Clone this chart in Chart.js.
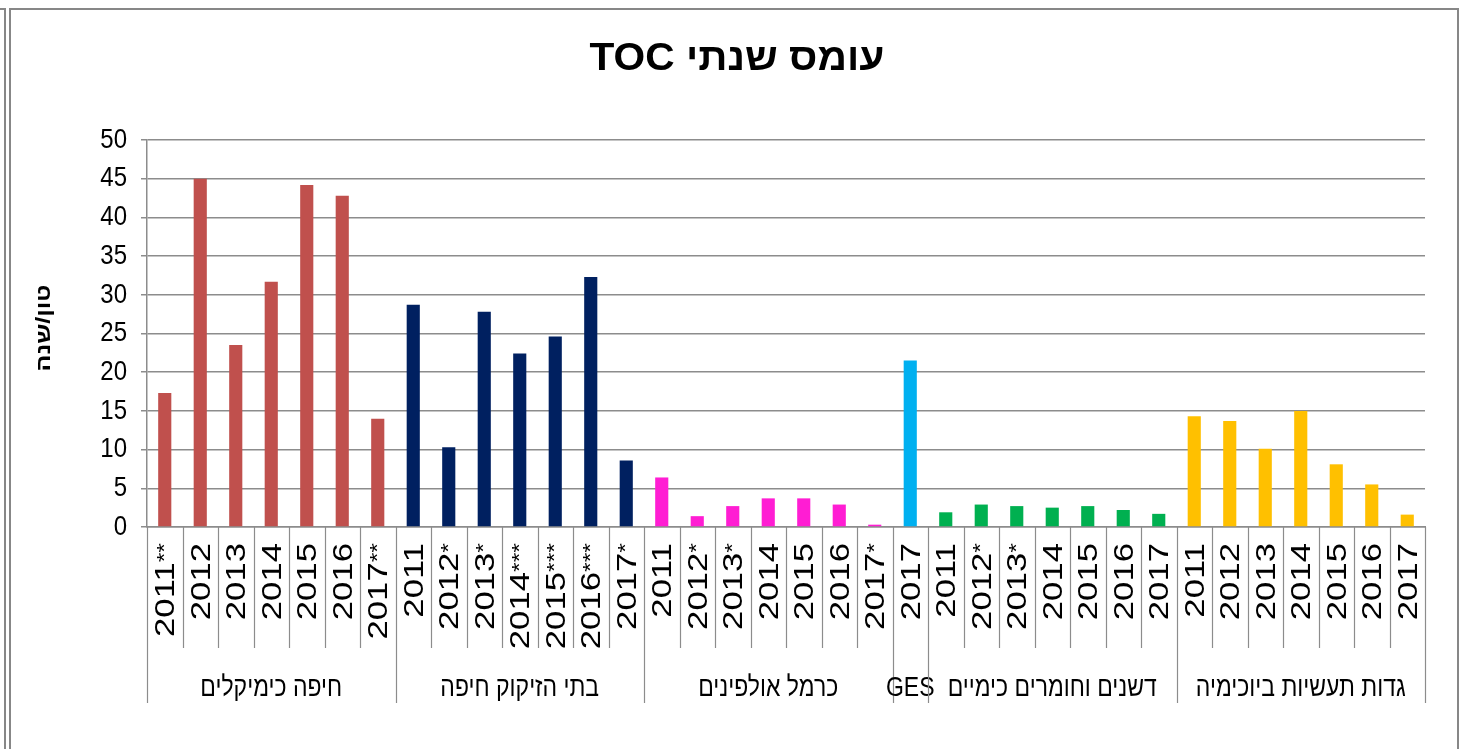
<!DOCTYPE html>
<html>
<head>
<meta charset="utf-8">
<script src="https://cdn.jsdelivr.net/npm/chart.js@4.4.0/dist/chart.umd.min.js"></script>
<style>
  html, body { margin: 0; padding: 0; background: #fff; overflow: hidden; }
  canvas { display: block; }
</style>
</head>
<body>
<canvas id="toc" width="1462" height="749"></canvas>
<script>
// chart texts
const chartTitle = 'עומס שנתי TOC';
const yAxisTitle = 'טון/שנה';

// plants (outer level of the category axis)
const groupNames = ['חיפה כימיקלים', 'בתי הזיקוק חיפה', 'כרמל אולפינים', 'GES', 'דשנים וחומרים כימיים', 'גדות תעשיות ביוכימיה'];

// years per plant (inner level), stars as in the source
const haifaChemYears = ['2011**', '2012', '2013', '2014', '2015', '2016', '2017**'];
const bazanYears = ['2011', '2012*', '2013*', '2014***', '2015***', '2016***', '2017*'];
const carmelYears = ['2011', '2012*', '2013*', '2014', '2015', '2016', '2017*'];
const gesYears = ['2017'];
const deshanimYears = ['2011', '2012*', '2013*', '2014', '2015', '2016', '2017'];
const gadotYears = ['2011', '2012', '2013', '2014', '2015', '2016', '2017'];

// TOC load, ton/year
const haifaChemValues = [17.3, 45.0, 23.5, 31.7, 44.2, 42.8, 14.0];
const bazanValues = [28.7, 10.3, 27.8, 22.4, 24.6, 32.3, 8.6];
const carmelValues = [6.4, 1.4, 2.7, 3.7, 3.7, 2.9, 0.3];
const gesValues = [21.5];
const deshanimValues = [1.9, 2.9, 2.7, 2.5, 2.7, 2.2, 1.7];
const gadotValues = [14.3, 13.7, 10.1, 15.0, 8.1, 5.5, 1.6];

const groupColors = ['#C0504D', '#002060', '#FF1DD3', '#00B0F0', '#00B050', '#FFC000'];

const groupYears = [haifaChemYears, bazanYears, carmelYears, gesYears, deshanimYears, gadotYears];
const groupValues = [haifaChemValues, bazanValues, carmelValues, gesValues, deshanimValues, gadotValues];

// flatten for the library
const labels = [];
const values = [];
const barColors = [];
groupYears.forEach((years, g) => {
  years.forEach((yr, k) => {
    labels.push(yr);
    values.push(groupValues[g][k]);
    barColors.push(groupColors[g]);
  });
});

const FONT = '"Liberation Sans", Arial, "DejaVu Sans", sans-serif';
const GRID = '#8c8c8c';

// draw text with an optional stretch (the source image is a bit stretched)
function drawText(ctx, text, x, y, o) {
  ctx.save();
  ctx.translate(x, y);
  if (o.rot) ctx.rotate(o.rot);
  ctx.scale(o.sx || 1, o.sy || 1);
  ctx.font = o.font;
  ctx.fillStyle = o.color || '#000';
  ctx.textAlign = o.align || 'center';
  ctx.textBaseline = o.baseline || 'middle';
  ctx.direction = o.dir || 'ltr';
  ctx.fillText(text, 0, 0);
  ctx.restore();
}

// year label, rotated, with small raised stars
function drawYear(ctx, label, x, top) {
  const m = label.match(/^(\d+)(\**)$/);
  const digits = m[1], stars = m[2];
  ctx.save();
  ctx.translate(x, top);
  ctx.rotate(-Math.PI / 2);
  ctx.scale(1.24, 1);
  ctx.fillStyle = '#000';
  ctx.textAlign = 'right';
  ctx.font = '20px ' + FONT;
  const wS = stars ? ctx.measureText(stars).width : 0;
  if (stars) {
    ctx.textBaseline = 'alphabetic';
    ctx.fillText(stars, 0, 4);
  }
  ctx.font = '28px ' + FONT;
  ctx.textBaseline = 'middle';
  ctx.fillText(digits, -wS, 0);
  ctx.restore();
}

const decorPlugin = {
  id: 'decor',
  afterDraw(chart) {
    const ctx = chart.ctx;
    const xs = chart.scales.x;
    const ys = chart.scales.y;
    const base = chart.chartArea.bottom;
    const half = (xs.getPixelForValue(1) - xs.getPixelForValue(0)) / 2;

    ctx.save();
    // outer frame
    ctx.strokeStyle = '#878787';
    ctx.lineWidth = 2;
    ctx.beginPath();
    ctx.moveTo(10, 749); ctx.lineTo(10, 9); ctx.lineTo(1458, 9); ctx.lineTo(1458, 749);
    ctx.stroke();
    ctx.beginPath();
    ctx.moveTo(0, 9); ctx.lineTo(5, 9); ctx.lineTo(5, 749);
    ctx.stroke();

    // title
    drawText(ctx, chartTitle, 737, 70, { font: 'bold 37px ' + FONT, baseline: 'alphabetic', dir: 'rtl', sx: 1.1, sy: 1.03 });

    // y axis title
    drawText(ctx, yAxisTitle, 44, 328, { font: 'bold 20px ' + FONT, rot: -Math.PI / 2, sx: 1.25, dir: 'rtl' });

    // y tick labels
    ys.ticks.forEach(t => {
      drawText(ctx, String(t.value), 127, ys.getPixelForValue(t.value), { font: '24px ' + FONT, align: 'right', sy: 1.17 });
    });

    // category axis: years, separators, plant names
    ctx.strokeStyle = GRID;
    ctx.lineWidth = 1.2;
    let start = 0;
    groupYears.forEach((years, g) => {
      years.forEach((yr, k) => {
        const px = xs.getPixelForValue(start + k);
        drawYear(ctx, yr, px + 2, 543);
        if (k > 0) {
          ctx.beginPath();
          ctx.moveTo(Math.round(px - half) + 0.5, base);
          ctx.lineTo(Math.round(px - half) + 0.5, base + 121);
          ctx.stroke();
        }
      });
      const left = xs.getPixelForValue(start) - half;
      const right = xs.getPixelForValue(start + years.length - 1) + half;
      ctx.beginPath();
      ctx.moveTo(Math.round(left) + 0.5, base);
      ctx.lineTo(Math.round(left) + 0.5, base + 176);
      ctx.stroke();
      drawText(ctx, groupNames[g], (left + right) / 2, 688, { font: '23px ' + FONT, sy: 1.2, dir: 'rtl' });
      start += years.length;
    });
    const end = xs.getPixelForValue(labels.length - 1) + half;
    ctx.beginPath();
    ctx.moveTo(Math.round(end) + 0.5, base);
    ctx.lineTo(Math.round(end) + 0.5, base + 176);
    ctx.stroke();
    ctx.restore();
  }
};

new Chart(document.getElementById('toc'), {
  type: 'bar',
  data: {
    labels: labels,
    datasets: [{
      data: values,
      backgroundColor: barColors,
      barPercentage: 0.37,
      categoryPercentage: 1.0
    }]
  },
  options: {
    responsive: false,
    animation: false,
    devicePixelRatio: 1,
    layout: { padding: { left: 141, right: 37, top: 140, bottom: 222 } },
    plugins: {
      legend: { display: false },
      tooltip: { enabled: false }
    },
    scales: {
      x: {
        ticks: { display: false },
        grid: { display: false },
        border: { display: true, color: GRID, width: 1.5 },
        afterFit(scale) { scale.height = 0; }
      },
      y: {
        min: 0,
        max: 50,
        ticks: { display: false, stepSize: 5 },
        grid: { color: GRID, lineWidth: 1.5, tickLength: 6, drawTicks: true },
        border: { display: true, color: GRID, width: 1.5 },
        afterFit(scale) { scale.width = 6; }
      }
    }
  },
  plugins: [decorPlugin]
});
</script>
</body>
</html>
